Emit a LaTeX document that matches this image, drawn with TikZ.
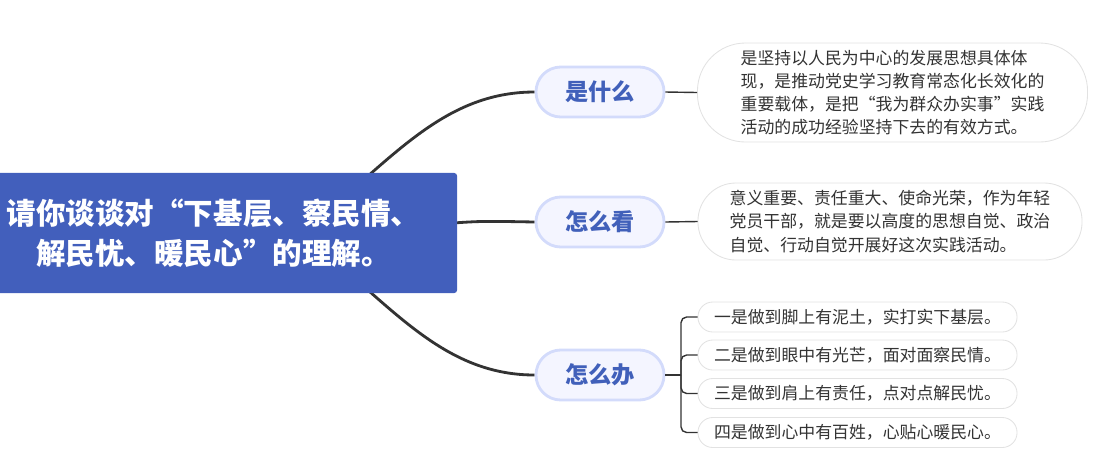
\documentclass[tikz,border=0pt]{standalone}
\usepackage{fontspec}
\setmainfont{Noto Sans CJK SC}
\usetikzlibrary{backgrounds}
\definecolor{rootblue}{RGB}{66,95,188}
\definecolor{qfill}{RGB}{244,245,255}
\definecolor{qline}{RGB}{211,219,251}
\definecolor{qtext}{RGB}{65,96,186}
\definecolor{pillline}{RGB}{226,226,226}
\definecolor{wire}{RGB}{51,51,51}
\tikzset{
  rootbox/.style={fill=rootblue, rounded corners=2pt, text=white, align=center,
    font=\fontsize{21}{28.4}\selectfont\bfseries, minimum width=12.175cm, minimum height=3cm},
  topic/.style={draw=qline, line width=2pt, fill=qfill, rounded corners=0.62cm,
    minimum width=3.2cm, minimum height=1.25cm, text=qtext, font=\fontsize{16.5}{19}\selectfont\bfseries},
  note/.style={draw=pillline, line width=0.6pt, fill=white, text=wire, align=left,
    font=\fontsize{12}{16.5}\selectfont},
  branch/.style={draw=wire, line width=2pt},
  twig/.style={draw=wire, line width=1pt, rounded corners=4pt},
}
\begin{document}
\begin{tikzpicture}[x=0.025cm, y=-0.025cm, every node/.style={inner sep=0pt}]
\useasboundingbox (0,0) rectangle (1098,456);
\node[rootbox](root) at (213.5,233){请你谈谈对“下基层、察民情、\\解民忧、暖民心”的理解。};
\node[topic](what) at (600,92){是什么};
\node[topic](view) at (600,222){怎么看};
\node[topic](act) at (600,375){怎么办};
\node[note, minimum width=9.75cm, minimum height=2.475cm, rounded corners=1.2cm](n1) at (892.5,92.5){是坚持以人民为中心的发展思想具体体\\现，是推动党史学习教育常态化长效化的\\重要载体，是把“我为群众办实事”实践\\活动的成功经验坚持下去的有效方式。};
\node[note, minimum width=9.6cm, minimum height=1.925cm, rounded corners=0.95cm](n2) at (890,221.5){意义重要、责任重大、使命光荣，作为年轻\\党员干部，就是要以高度的思想自觉、政治\\自觉、行动自觉开展好这次实践活动。};
\node[note, minimum width=7.975cm, minimum height=0.75cm, rounded corners=0.37cm](s1) at (857.5,317){一是做到脚上有泥土，实打实下基层。};
\node[note, minimum width=7.975cm, minimum height=0.75cm, rounded corners=0.37cm](s2) at (857.5,355){二是做到眼中有光芒，面对面察民情。};
\node[note, minimum width=7.975cm, minimum height=0.75cm, rounded corners=0.37cm](s3) at (857.5,393.5){三是做到肩上有责任，点对点解民忧。};
\node[note, minimum width=7.975cm, minimum height=0.75cm, rounded corners=0.37cm](s4) at (857.5,432.5){四是做到心中有百姓，心贴心暖民心。};
\begin{scope}[on background layer]
\coordinate(j1) at (330,209);
\coordinate(j2) at (440,224);
\coordinate(j3) at (330,257);
\draw[branch](j1) .. controls (400,150) and (450,92) .. (what.west);
\draw[branch](j2) .. controls (480,221) .. (view.west);
\draw[branch](j3) .. controls (400,316) and (450,375) .. (act.west);
\end{scope}
\coordinate(fork) at (681,375);
\draw[twig](what.east) -- (n1.west);
\draw[twig](view.east) -- (n2.west);
\draw[twig](act.east) -- (fork);
\draw[twig](fork) |- (s1.west);
\draw[twig](fork) |- (s2.west);
\draw[twig](fork) |- (s3.west);
\draw[twig](fork) |- (s4.west);
\end{tikzpicture}
\end{document}
